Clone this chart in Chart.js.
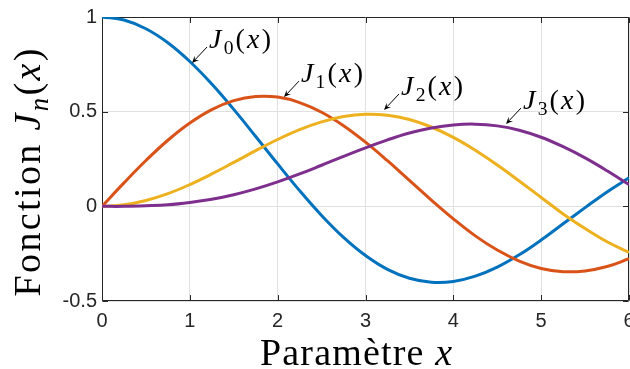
<!DOCTYPE html>
<html lang="fr">

<head>
  <meta charset="UTF-8" />
  <title>Fonctions de Bessel</title>
  <script src="https://cdn.jsdelivr.net/npm/chart.js"></script>
  <style>
    body { margin: 0; background: #fff; }
  </style>
</head>

<body>
  <canvas id="besselChart" width="630" height="369"></canvas>

  <script>
    // sampled values of J0..J3 on [0, 6]
    const xValues = [0, 0.25, 0.5, 0.75, 1, 1.25, 1.5, 1.75, 2, 2.25, 2.5, 2.75, 3,
      3.25, 3.5, 3.75, 4, 4.25, 4.5, 4.75, 5, 5.25, 5.5, 5.75, 6];
    const j0Values = [1.000, 0.984, 0.938, 0.864, 0.765, 0.646, 0.512, 0.369, 0.224, 0.083, -0.048, -0.164, -0.260,
      -0.333, -0.380, -0.401, -0.397, -0.369, -0.321, -0.256, -0.178, -0.092, -0.007, 0.076, 0.151];
    const j1Values = [0, 0.124, 0.242, 0.349, 0.440, 0.511, 0.558, 0.580, 0.577, 0.548, 0.497, 0.426, 0.339,
      0.241, 0.137, 0.033, -0.066, -0.156, -0.231, -0.289, -0.328, -0.345, -0.341, -0.318, -0.277];
    const j2Values = [0, 0.008, 0.031, 0.067, 0.115, 0.171, 0.232, 0.294, 0.353, 0.405, 0.446, 0.474, 0.486,
      0.481, 0.459, 0.419, 0.364, 0.296, 0.218, 0.134, 0.047, -0.040, -0.117, -0.187, -0.243];
    const j3Values = [0, 0.000, 0.003, 0.008, 0.020, 0.037, 0.061, 0.092, 0.129, 0.171, 0.217, 0.264, 0.309,
      0.351, 0.387, 0.414, 0.430, 0.434, 0.425, 0.402, 0.365, 0.315, 0.256, 0.188, 0.115];

    const xTicks = [0, 1, 2, 3, 4, 5, 6];
    const yTicks = [-0.5, 0, 0.5, 1];
    const seriesNames = ["J0", "J1", "J2", "J3"];
    const seriesColors = ["#0072BD", "#D95319", "#EDB120", "#7E2F8E"];

    const AXIS_COLOR = "#262626";
    const SERIF = '"Liberation Serif", "Times New Roman", serif';

    // arrow tips of the curve labels, in data units
    const curveLabels = [
      { index: "0", x: 1.025, y: 0.757 },
      { index: "1", x: 2.072, y: 0.577 },
      { index: "2", x: 3.211, y: 0.509 },
      { index: "3", x: 4.600, y: 0.435 }
    ];

    // text made of roman / italic / subscript runs
    function runFont(p, size) {
      const s = p.sub ? size * 0.7 : size;
      return `${p.it ? "italic " : ""}${s}px ${SERIF}`;
    }

    function richWidth(ctx, parts, size, spacing) {
      let w = 0;
      for (const p of parts) {
        ctx.font = runFont(p, size);
        for (const ch of p.t) w += ctx.measureText(ch).width + spacing;
      }
      return w - spacing;
    }

    function fitSpacing(ctx, parts, size, width) {
      const n = parts.reduce((acc, p) => acc + [...p.t].length, 0);
      return (width - richWidth(ctx, parts, size, 0)) / (n - 1);
    }

    function drawRich(ctx, parts, x, y, size, spacing) {
      let cx = x;
      for (const p of parts) {
        ctx.font = runFont(p, size);
        const dy = p.sub ? size * 0.22 : 0;
        for (const ch of p.t) {
          ctx.fillText(ch, cx, y + dy);
          cx += ctx.measureText(ch).width + spacing;
        }
      }
    }

    function drawArrow(ctx, x0, y0, x1, y1) {
      const len = Math.hypot(x1 - x0, y1 - y0);
      const dx = (x1 - x0) / len, dy = (y1 - y0) / len;
      const nx = -dy, ny = dx;
      const L = 7, W = 3;
      ctx.beginPath();
      ctx.moveTo(x0, y0);
      ctx.lineTo(x1 - dx * L * 0.6, y1 - dy * L * 0.6);
      ctx.stroke();
      ctx.beginPath();
      ctx.moveTo(x1, y1);
      ctx.lineTo(x1 - dx * L + nx * W, y1 - dy * L + ny * W);
      ctx.lineTo(x1 - dx * L * 0.6, y1 - dy * L * 0.6);
      ctx.lineTo(x1 - dx * L - nx * W, y1 - dy * L - ny * W);
      ctx.closePath();
      ctx.fill();
    }

    // box around the axes + inward ticks on all four sides
    const axesBox = {
      id: "axesBox",
      beforeDatasetsDraw(chart) {
        const { ctx, chartArea: a, scales: { x, y } } = chart;
        const L = Math.round(a.left) + 0.5, R = Math.round(a.right) - 0.5;
        const T = Math.round(a.top) + 0.5, B = Math.round(a.bottom) - 0.5;
        ctx.save();
        ctx.strokeStyle = AXIS_COLOR;
        ctx.lineWidth = 1;
        ctx.beginPath();
        ctx.moveTo(L, B); ctx.lineTo(L, T); ctx.lineTo(R, T); ctx.lineTo(R, B); ctx.lineTo(L, B);
        const tick = 5.5;
        xTicks.forEach(v => {
          const px = Math.round(x.getPixelForValue(v)) + 0.5;
          ctx.moveTo(px, B); ctx.lineTo(px, B - tick);
          ctx.moveTo(px, T); ctx.lineTo(px, T + tick);
        });
        yTicks.forEach(v => {
          const py = Math.round(y.getPixelForValue(v)) + 0.5;
          ctx.moveTo(L, py); ctx.lineTo(L + tick, py);
          ctx.moveTo(R, py); ctx.lineTo(R - tick, py);
        });
        ctx.stroke();
        ctx.restore();
      },
      afterDraw(chart) {
        const { ctx, scales: { x, y } } = chart;
        ctx.save();
        ctx.fillStyle = "#000";
        ctx.strokeStyle = "#000";
        ctx.lineWidth = 1;
        ctx.textAlign = "left";
        ctx.textBaseline = "alphabetic";

        // curve labels with arrows
        curveLabels.forEach(lb => {
          const tx = x.getPixelForValue(lb.x), ty = y.getPixelForValue(lb.y);
          const sx = tx + 15, sy = ty - 16;
          drawArrow(ctx, sx, sy, tx, ty);
          const parts = [{ t: "J", it: true }, { t: lb.index, sub: true }, { t: "(" }, { t: "x", it: true }, { t: ")" }];
          const sp = fitSpacing(ctx, parts, 28, 62);
          drawRich(ctx, parts, sx + 2, sy + 1, 28, sp);
        });

        // x axis title
        const xt = [{ t: "Paramètre " }, { t: "x", it: true }];
        const xsp = fitSpacing(ctx, xt, 38, 192);
        const xw = richWidth(ctx, xt, 38, xsp);
        drawRich(ctx, xt, 356 - xw / 2, 365, 38, xsp);

        // y axis title, rotated
        const yt = [{ t: "Fonction " }, { t: "J", it: true }, { t: "n", it: true, sub: true }, { t: "(" }, { t: "x", it: true }, { t: ")" }];
        const ysp = fitSpacing(ctx, yt, 38, 248);
        const yw = richWidth(ctx, yt, 38, ysp);
        ctx.translate(40, 172.5);
        ctx.rotate(-Math.PI / 2);
        drawRich(ctx, yt, -yw / 2, 0, 38, ysp);
        ctx.restore();
      }
    };

    const allSeries = [j0Values, j1Values, j2Values, j3Values];
    const datasets = allSeries.map((vals, i) => ({
      label: seriesNames[i],
      data: xValues.map((xv, k) => ({ x: xv, y: vals[k] })),
      borderColor: seriesColors[i],
      borderWidth: 3,
      pointRadius: 0,
      fill: false,
      tension: 0.4,
      order: allSeries.length - i
    }));

    const tickFont = { family: '"Liberation Sans", Arial, sans-serif', size: 20 };
    const gridStyle = { color: "#e0e0e0", lineWidth: 1, drawTicks: false };

    new Chart(document.getElementById("besselChart").getContext("2d"), {
      type: "line",
      data: { datasets },
      plugins: [axesBox],
      options: {
        responsive: false,
        animation: false,
        locale: "en-US",
        layout: { padding: { top: 17, right: 1, left: 0, bottom: 0 } },
        plugins: { legend: { display: false }, tooltip: { enabled: false } },
        scales: {
          x: {
            type: "linear",
            min: 0,
            max: 6,
            afterBuildTicks: s => { s.ticks = xTicks.map(v => ({ value: v })); },
            ticks: { font: tickFont, color: AXIS_COLOR, padding: 8, maxRotation: 0, autoSkip: false, callback: v => String(v) },
            grid: gridStyle,
            border: { display: false },
            afterFit: s => { s.height = 68; s.paddingLeft = 0; s.paddingRight = 0; }
          },
          y: {
            type: "linear",
            min: -0.5,
            max: 1,
            afterBuildTicks: s => { s.ticks = yTicks.map(v => ({ value: v })); },
            ticks: { font: tickFont, color: AXIS_COLOR, padding: 5, callback: v => String(v) },
            grid: gridStyle,
            border: { display: false },
            afterFit: s => { s.width = 102; s.paddingTop = 0; s.paddingBottom = 0; }
          }
        }
      }
    });
  </script>
</body>

</html>
